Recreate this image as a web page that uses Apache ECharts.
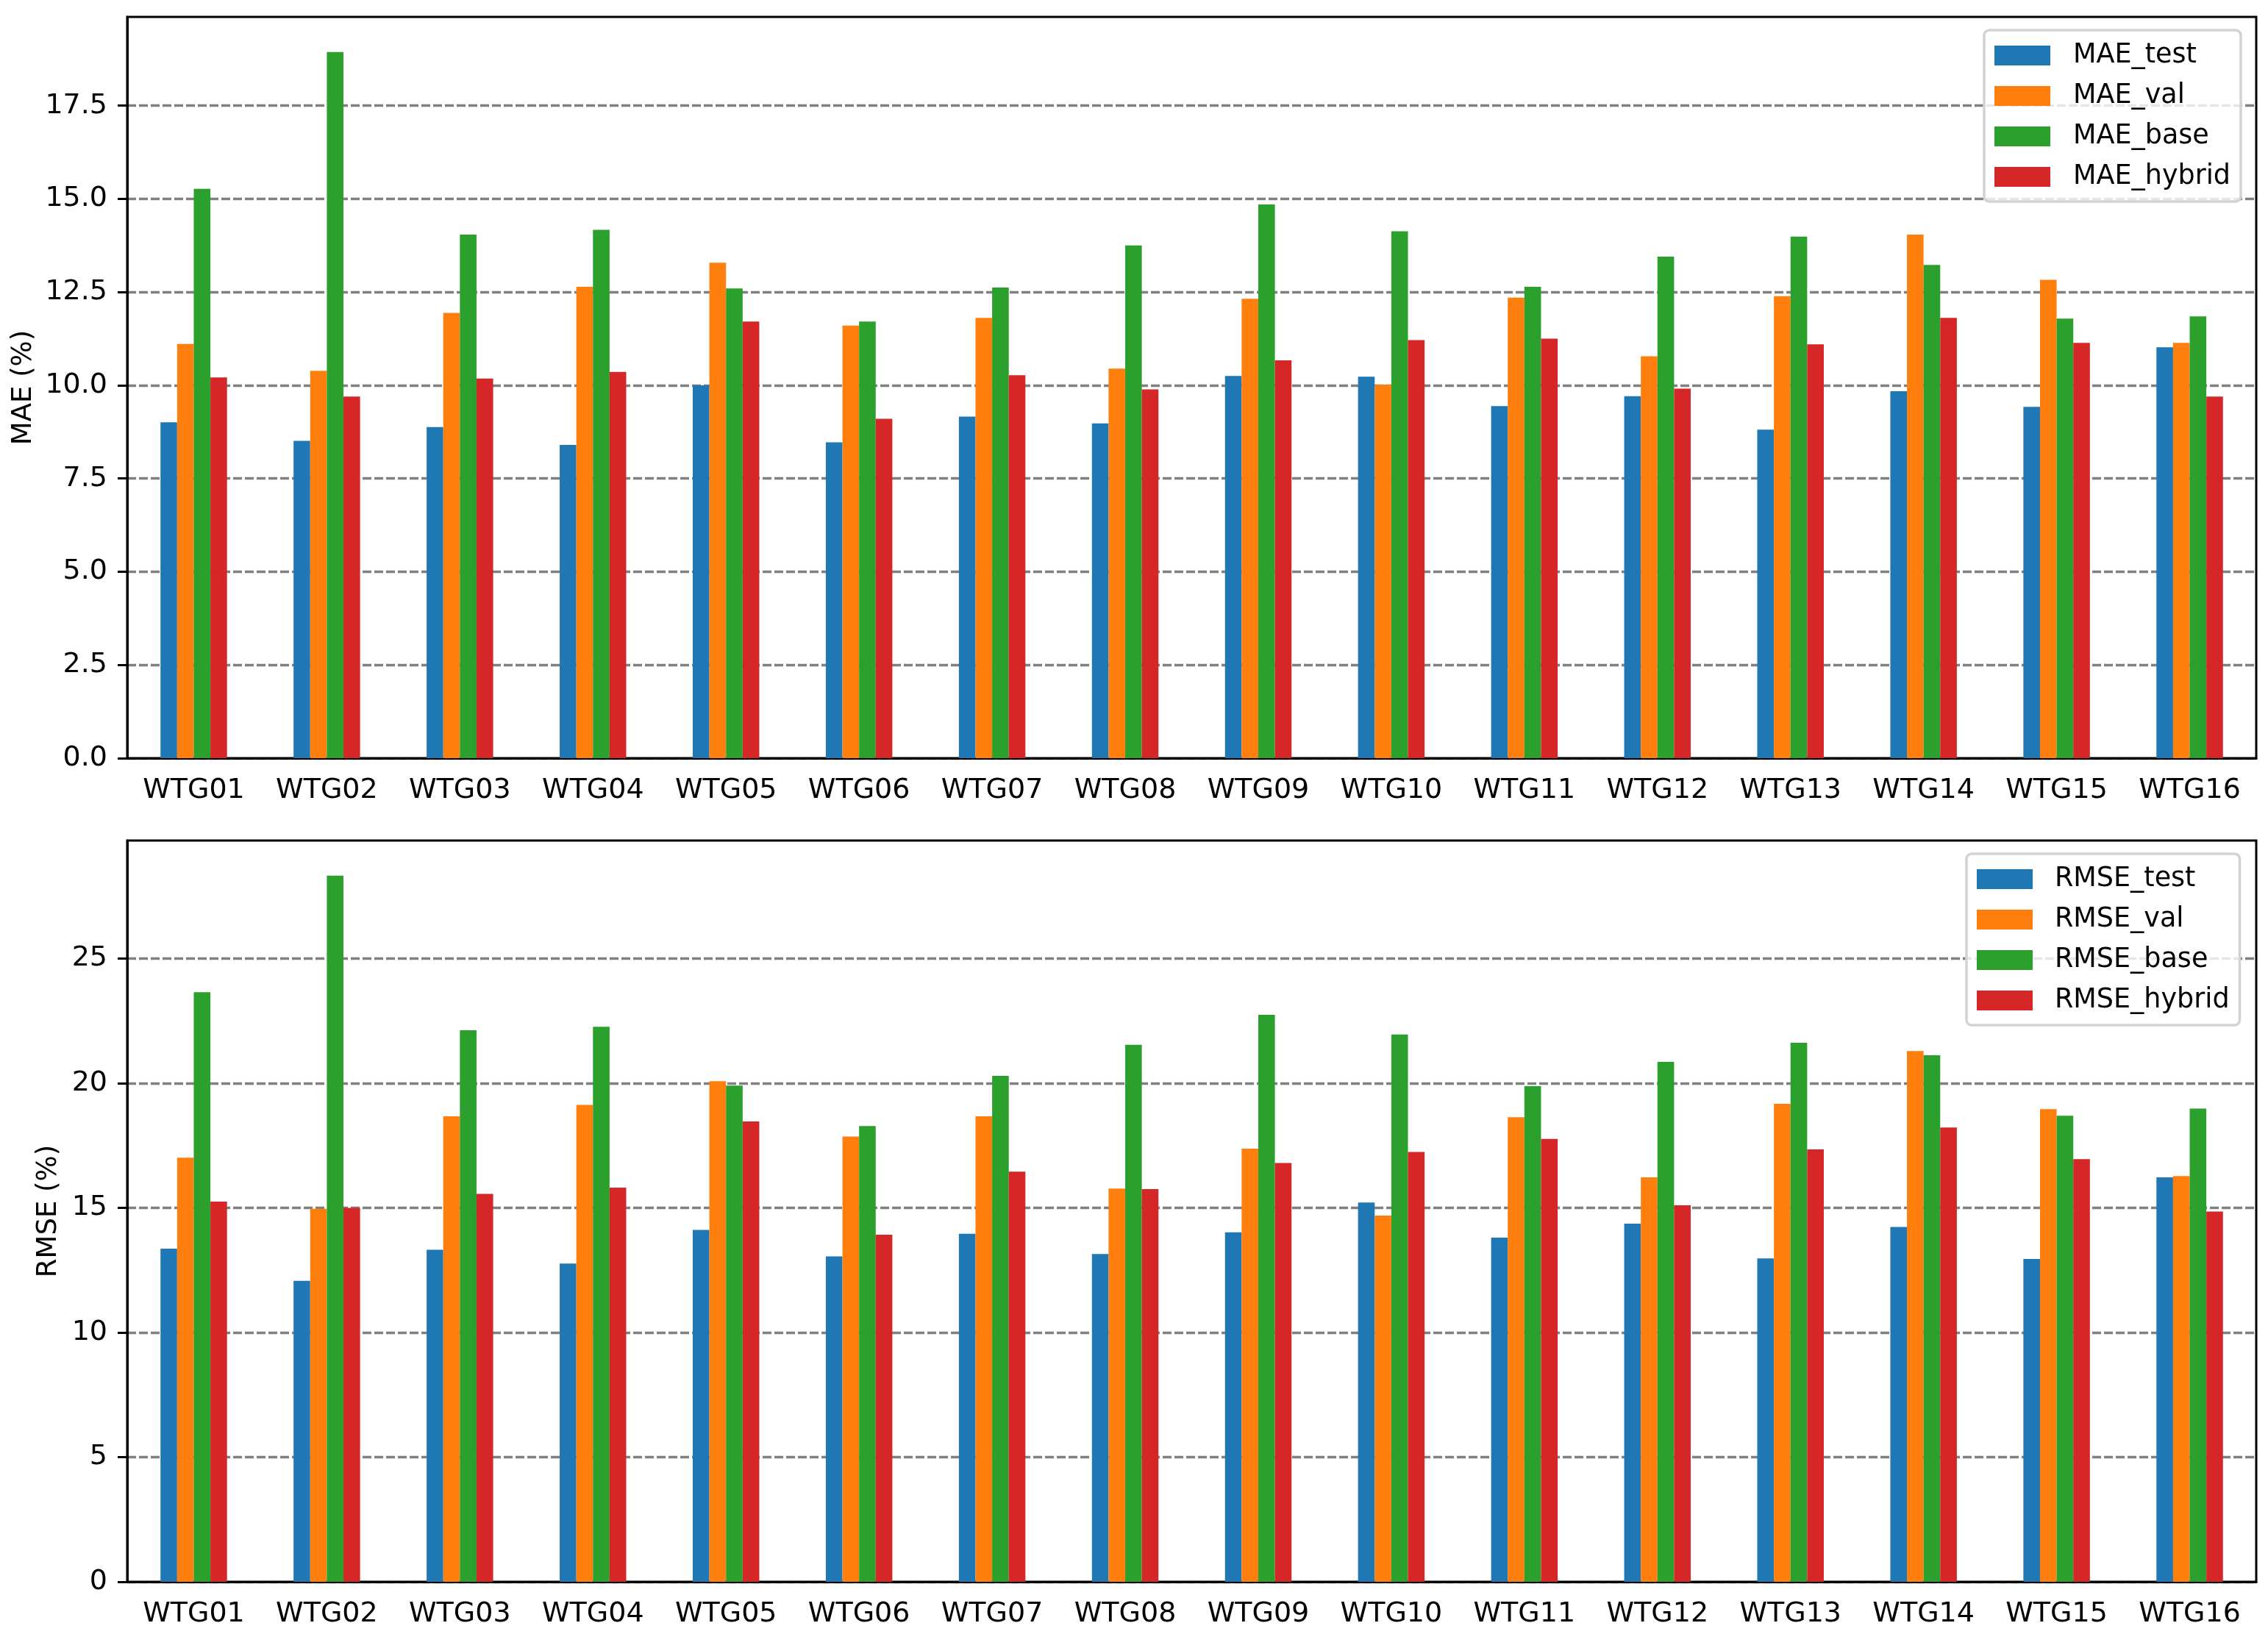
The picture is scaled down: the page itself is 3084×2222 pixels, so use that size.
<!DOCTYPE html>
<html><head><meta charset="utf-8">
<script src="https://cdn.jsdelivr.net/npm/echarts@6/dist/echarts.min.js"></script>
<style>html,body{margin:0;padding:0;background:#fff}#c{width:3084px;height:2222px}</style>
</head><body><div id="c"></div>
<script>
const categories = ['WTG01','WTG02','WTG03','WTG04','WTG05','WTG06','WTG07','WTG08','WTG09','WTG10','WTG11','WTG12','WTG13','WTG14','WTG15','WTG16'];

const maeTest   = [9.01, 8.51, 8.88, 8.40, 10.00, 8.47, 9.16, 8.98, 10.25, 10.23, 9.44, 9.71, 8.81, 9.84, 9.42, 11.02];
const maeVal    = [11.11, 10.39, 11.94, 12.64, 13.29, 11.60, 11.81, 10.45, 12.32, 10.02, 12.35, 10.78, 12.39, 14.04, 12.83, 11.14];
const maeBase   = [15.27, 18.94, 14.04, 14.17, 12.60, 11.71, 12.62, 13.75, 14.85, 14.13, 12.64, 13.45, 13.99, 13.23, 11.79, 11.85];
const maeHybrid = [10.21, 9.70, 10.18, 10.36, 11.71, 9.10, 10.27, 9.89, 10.67, 11.21, 11.25, 9.91, 11.10, 11.81, 11.14, 9.70];

const rmseTest   = [13.36, 12.07, 13.32, 12.76, 14.11, 13.05, 13.96, 13.15, 14.02, 15.21, 13.80, 14.36, 12.97, 14.23, 12.95, 16.22];
const rmseVal    = [17.01, 14.96, 18.67, 19.13, 20.08, 17.86, 18.67, 15.77, 17.37, 14.69, 18.63, 16.22, 19.17, 21.29, 18.96, 16.27];
const rmseBase   = [23.65, 28.32, 22.12, 22.26, 19.90, 18.28, 20.29, 21.54, 22.74, 21.95, 19.88, 20.85, 21.62, 21.12, 18.69, 18.98];
const rmseHybrid = [15.25, 15.00, 15.56, 15.81, 18.46, 13.92, 16.45, 15.75, 16.80, 17.24, 17.76, 15.10, 17.34, 18.22, 16.95, 14.85];

const maeTicks  = [0, 2.5, 5, 7.5, 10, 12.5, 15, 17.5];
const rmseTicks = [0, 5, 10, 15, 20, 25];

const maeNames  = ['MAE_test', 'MAE_val', 'MAE_base', 'MAE_hybrid'];
const rmseNames = ['RMSE_test', 'RMSE_val', 'RMSE_base', 'RMSE_hybrid'];
const colors = ['#1f77b4', '#ff7f0e', '#2ca02c', '#d62728'];

const FONT = 'DejaVu Sans';

function xAxis(gi) {
  return {
    type: 'category', gridIndex: gi, data: categories,
    axisLine: { lineStyle: { color: '#000', width: 3 } },
    axisTick: { alignWithLabel: true, length: 13, lineStyle: { color: '#000', width: 3 } },
    axisLabel: { fontFamily: FONT, fontSize: 38, color: '#000', margin: 25 },
    splitLine: { show: false }
  };
}
function yAxis(gi, max, ticks, name, gap, fmt) {
  return {
    type: 'value', gridIndex: gi, min: 0, max: max,
    name: name, nameLocation: 'middle', nameGap: gap,
    nameTextStyle: { fontFamily: FONT, fontSize: 37, color: '#000' },
    axisLine: { show: true, lineStyle: { color: '#000', width: 3 } },
    axisTick: { show: true, length: 13, customValues: ticks, lineStyle: { color: '#000', width: 3 } },
    axisLabel: { fontFamily: FONT, fontSize: 38, color: '#000', margin: 27, customValues: ticks, formatter: fmt },
    splitLine: { show: true, lineStyle: { color: '#808080', width: 3.3, type: [12, 4] } }
  };
}
function legend(names, top, left, textGap) {
  return {
    data: names, orient: 'vertical', left: left, top: top,
    icon: 'rect', itemWidth: 76, itemHeight: 27, itemGap: 18,
    backgroundColor: 'rgba(255,255,255,0.8)', borderColor: '#d3d3d3', borderWidth: 3.5, borderRadius: 7,
    padding: [16, 14, 15, 14],
    textStyle: { fontFamily: FONT, fontSize: 36.5, color: '#000', lineHeight: 37, padding: [0, 0, 0, textGap] }
  };
}
function bars(names, arrays, gi) {
  return names.map((n, i) => ({
    name: n, type: 'bar', xAxisIndex: gi, yAxisIndex: gi, data: arrays[i],
    barWidth: '12.5%', barGap: '0%', itemStyle: { color: colors[i] }
  }));
}

const chart = echarts.init(document.getElementById('c'), null, { renderer: 'canvas' });
chart.setOption({
  animation: false,
  backgroundColor: '#fff',
  color: colors,
  grid: [
    { left: 173, top: 23, width: 2895, height: 1008, show: true, borderColor: '#000', borderWidth: 3, backgroundColor: 'transparent' },
    { left: 173, top: 1143, width: 2895, height: 1008, show: true, borderColor: '#000', borderWidth: 3, backgroundColor: 'transparent' }
  ],
  xAxis: [xAxis(0), xAxis(1)],
  yAxis: [
    yAxis(0, 19.88, maeTicks, 'MAE (%)', 122, v => v.toFixed(1)),
    yAxis(1, 29.73, rmseTicks, 'RMSE (%)', 88, v => String(v))
  ],
  legend: [legend(maeNames, 41, 2698, 26), legend(rmseNames, 1161, 2674, 25)],
  series: bars(maeNames, [maeTest, maeVal, maeBase, maeHybrid], 0)
    .concat(bars(rmseNames, [rmseTest, rmseVal, rmseBase, rmseHybrid], 1))
});
</script></body></html>
